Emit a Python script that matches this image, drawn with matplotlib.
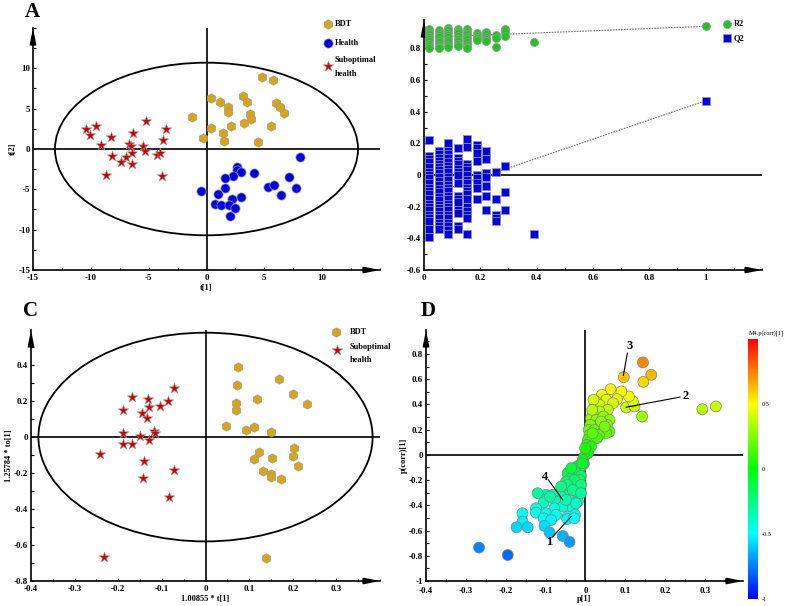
import numpy as np
import matplotlib
matplotlib.use("Agg")
import matplotlib.pyplot as plt
from matplotlib.patches import Ellipse
from matplotlib.ticker import AutoMinorLocator, FuncFormatter
from matplotlib.colors import LinearSegmentedColormap, Normalize
from matplotlib.cm import ScalarMappable

plt.rcParams["font.family"] = ["Liberation Serif", "DejaVu Serif"]
plt.rcParams["font.weight"] = "bold"

# ---- panel A: PCA-like scores ----
a_bdt_x = [4.83, 5.78, 0.37, 1.18, 3.16, 3.53, 1.90, 1.84, 3.74, 3.85, 3.28,
           6.03, 6.32, 6.72, -1.26, 0.40, 2.16, 1.44, 5.55, -0.29, 1.52, 4.45]
a_bdt_y = [8.98, 8.57, 6.31, 5.78, 6.52, 5.78, 5.16, 4.55, 4.34, 3.73, 3.20,
           5.66, 5.25, 4.43, 3.98, 2.58, 2.91, 2.01, 2.79, 1.39, 0.94, 0.90]
a_health_x = [8.05, 2.61, 2.67, 3.02, 2.33, 4.11, 1.58, 7.13, -0.49, 1.61, 1.01,
              5.34, 5.83, 6.41, 7.70, 3.02, 2.24, 0.72, 1.29, 1.95, 2.44, 2.04]
a_health_y = [-0.98, -2.21, -2.62, -2.87, -3.36, -2.99, -3.57, -3.44, -5.16, -4.80, -5.61,
              -4.71, -4.47, -5.66, -4.80, -5.90, -6.15, -6.84, -6.93, -6.89, -7.30, -8.32]
a_sub_x = [-10.43, -9.57, -10.09, -9.08, -8.22, -5.26, -3.48, -6.38, -3.79, -6.72, -6.52,
           -5.52, -5.32, -6.44, -8.19, -6.95, -4.31, -4.02, -7.39, -6.44, -8.68, -3.82]
a_sub_y = [2.54, 2.83, 1.72, 0.49, 1.43, 3.52, 2.54, 1.97, 1.11, 0.66, 0.37,
           0.37, -0.20, -0.49, -0.86, -0.98, -0.78, -0.53, -1.56, -1.84, -3.20, -3.36]

# ---- panel B: permutation test ----
b_perm_x = [0.0165, 0.053, 0.085, 0.121, 0.151, 0.188, 0.219, 0.257, 0.286, 0.392, 1.0]
b_r2 = [
    [0.92, 0.905, 0.89, 0.875, 0.86, 0.845, 0.83, 0.815, 0.805],
    [0.915, 0.90, 0.885, 0.87, 0.855, 0.84, 0.825, 0.81, 0.80],
    [0.93, 0.915, 0.90, 0.885, 0.87, 0.855, 0.84, 0.825, 0.812],
    [0.925, 0.91, 0.895, 0.88, 0.86, 0.845, 0.83, 0.815],
    [0.92, 0.905, 0.89, 0.875, 0.86, 0.84, 0.825, 0.81, 0.80],
    [0.895, 0.88, 0.865, 0.855],
    [0.905, 0.89, 0.875, 0.86, 0.85],
    [0.886, 0.865, 0.812],
    [0.922, 0.903, 0.88],
    [0.84],
    [0.941],
]
b_q2 = [
    [0.22, 0.12, 0.10, 0.08, 0.05, 0.02, 0.0, -0.02, -0.05, -0.08, -0.10, -0.12, -0.15,
     -0.18, -0.20, -0.22, -0.25, -0.27, -0.29, -0.34, -0.39],
    [0.15, 0.13, 0.11, 0.09, 0.07, 0.05, 0.03, 0.01, -0.01, -0.04, -0.06, -0.09, -0.11,
     -0.14, -0.16, -0.19, -0.21, -0.23, -0.25, -0.27, -0.30, -0.32, -0.34],
    [0.205, 0.15, 0.13, 0.11, 0.08, 0.06, 0.04, 0.02, -0.01, -0.03, -0.06, -0.08, -0.10,
     -0.13, -0.15, -0.18, -0.20, -0.22, -0.25, -0.27, -0.30, -0.32, -0.35, -0.37],
    [0.17, 0.11, 0.09, 0.07, 0.04, 0.02, 0.0, -0.05, -0.13, -0.15, -0.17, -0.22, -0.24,
     -0.32, -0.34],
    [0.225, 0.18, 0.07, 0.05, 0.03, 0.0, -0.03, -0.05, -0.08, -0.10, -0.12, -0.15, -0.20,
     -0.23, -0.25, -0.27, -0.37],
    [0.19, 0.17, 0.14, 0.09, 0.0, -0.02, -0.05, -0.08, -0.15],
    [0.15, 0.10, 0.01, -0.01, -0.07, -0.13, -0.22],
    [0.02, -0.15, -0.25, -0.27, -0.29],
    [0.055, -0.11, -0.22],
    [-0.37],
    [0.47],
]
b_r2_line = [0.87, 0.94]
b_q2_line = [-0.137, 0.47]

# ---- panel C: OPLS-DA scores ----
c_bdt_x = [0.074, 0.072, 0.071, 0.069, 0.169, 0.200, 0.232, 0.119, 0.047, 0.092, 0.111,
           0.150, 0.204, 0.201, 0.212, 0.123, 0.111, 0.153, 0.131, 0.149, 0.150, 0.172, 0.138]
c_bdt_y = [0.389, 0.289, 0.187, 0.148, 0.322, 0.241, 0.181, 0.209, 0.061, 0.041, 0.057,
           0.028, -0.063, -0.107, -0.163, -0.085, -0.124, -0.119, -0.191, -0.206, -0.220,
           -0.233, -0.674]
c_sub_x = [-0.073, -0.168, -0.132, -0.188, -0.085, -0.105, -0.129, -0.145, -0.135, -0.119,
           -0.116, -0.188, -0.149, -0.130, -0.188, -0.168, -0.241, -0.140, -0.073, -0.144,
           -0.084, -0.232]
c_sub_y = [0.274, 0.220, 0.209, 0.150, 0.202, 0.172, 0.165, 0.131, 0.104, 0.035,
           0.020, 0.020, 0.006, -0.019, -0.037, -0.037, -0.093, -0.131, -0.185, -0.230,
           -0.331, -0.667]

# ---- panel D: S-plot ----
d_p = [0.144, 0.096, 0.165, 0.145, 0.293, 0.327, 0.142, 0.102, 0.123, 0.119, 0.109,
       0.090, 0.063, 0.041, 0.079, 0.052, 0.027, 0.023, 0.035, 0.069, 0.056, 0.035,
       0.018, 0.014, 0.027, 0.045, 0.060, 0.054, 0.031, 0.012, 0.008, 0.023, 0.044,
       0.060, 0.052, 0.034, 0.010, 0.006, 0.018, 0.029, 0.003, 0.014, 0.002, 0.006,
       -0.003, -0.007, -0.004, -0.011, -0.019, -0.028, -0.015, -0.024, -0.045, -0.011,
       -0.034, -0.049, -0.015, -0.032, -0.019, -0.053, -0.040, -0.024, -0.061, -0.082,
       -0.099, -0.120, -0.040, -0.019, -0.074, -0.105, -0.057, -0.032, -0.024, -0.078,
       -0.124, -0.124, -0.099, -0.074, -0.045, -0.026, -0.105, -0.086, -0.158, -0.158,
       -0.173, -0.145, -0.103, -0.046, -0.090, -0.057, -0.040, -0.267, -0.195,
       0.020, 0.017, 0.039, 0.048, 0.018, -0.001, -0.008, -0.036, -0.028, -0.011,
       -0.045, -0.061, -0.032, -0.011, -0.049, -0.089, -0.028]
d_pcorr = [0.733, 0.616, 0.635, 0.579, 0.362, 0.384, 0.304, 0.376, 0.384, 0.423, 0.463,
           0.503, 0.521, 0.476, 0.442, 0.437, 0.423, 0.384, 0.397, 0.410, 0.357, 0.344,
           0.331, 0.291, 0.278, 0.304, 0.278, 0.238, 0.238, 0.238, 0.198, 0.198, 0.185,
           0.185, 0.172, 0.159, 0.159, 0.119, 0.119, 0.132, 0.079, 0.066, 0.040, 0.013,
           -0.013, -0.040, -0.071, -0.093, -0.087, -0.106, -0.124, -0.146, -0.146, -0.167,
           -0.185, -0.212, -0.198, -0.238, -0.265, -0.278, -0.304, -0.317, -0.331, -0.317,
           -0.317, -0.304, -0.357, -0.370, -0.370, -0.378, -0.410, -0.423, -0.384, -0.423,
           -0.423, -0.458, -0.463, -0.476, -0.489, -0.476, -0.503, -0.516, -0.463, -0.529,
           -0.574, -0.574, -0.563, -0.508, -0.616, -0.643, -0.690, -0.735, -0.794,
           0.437, 0.357, 0.265, 0.225, 0.172, 0.053, -0.066, -0.106, -0.198, -0.238,
           -0.238, -0.251, -0.278, -0.304, -0.357, -0.331, -0.503]
d_labels = ["1", "2", "3", "4"]
d_label_xy = [(-0.092, -0.693), (0.252, 0.463), (0.111, 0.860), (-0.102, -0.172)]
d_label_from = [(-0.082, -0.648), (0.237, 0.458), (0.105, 0.807), (-0.093, -0.198)]
d_label_to = [(-0.036, -0.489), (0.102, 0.378), (0.095, 0.630), (-0.057, -0.357)]

GOLD = "#D9A514"
BLUE = "#0000DD"
RED = "#CC0000"
GREEN = "#22C322"
EDGE = "#9a9a9a"
TICK_FS = 6.5

fig = plt.figure(figsize=(7.87, 6.06), dpi=100)
W, H = 787.0, 606.0


def px_axes(x0, y0, x1, y1):
    return fig.add_axes([x0 / W, 1 - y1 / H, (x1 - x0) / W, (y1 - y0) / H])


def fmt(v, p):
    return f"{round(v, 6):g}"


def style(ax, xticks, yticks):
    for s in ["top", "right"]:
        ax.spines[s].set_visible(False)
    for s in ["left", "bottom"]:
        ax.spines[s].set_linewidth(1.2)
    ax.set_xticks(xticks)
    ax.set_yticks(yticks)
    ax.xaxis.set_minor_locator(AutoMinorLocator(2))
    ax.yaxis.set_minor_locator(AutoMinorLocator(2))
    ax.xaxis.set_major_formatter(FuncFormatter(fmt))
    ax.yaxis.set_major_formatter(FuncFormatter(fmt))
    ax.tick_params(which="both", direction="in", width=0.8, labelsize=TICK_FS, pad=2)
    ax.tick_params(axis="x", pad=3)
    ax.tick_params(which="major", length=2.5)
    ax.tick_params(which="minor", length=1.8)
    for lab in ax.get_xticklabels() + ax.get_yticklabels():
        lab.set_fontweight("bold")
    arr = dict(arrowstyle="-|>,head_length=0.9,head_width=0.18", color="k", lw=1.2,
               shrinkA=0, shrinkB=0)
    ax.annotate("", xy=(1.0, 0), xytext=(0.96, 0), xycoords="axes fraction", arrowprops=arr)
    ax.annotate("", xy=(0, 1.0), xytext=(0, 0.96), xycoords="axes fraction", arrowprops=arr)


def cross(ax, vertical=True):
    ax.axhline(0, color="k", lw=1.2, zorder=1)
    if vertical:
        ax.axvline(0, color="k", lw=1.2, zorder=1)


# ---- A ----
axA = px_axes(33, 28, 380, 270)
axA.set_xlim(-15, 15)
axA.set_ylim(-15, 15)
style(axA, [-15, -10, -5, 0, 5, 10], [-15, -10, -5, 0, 5, 10])
cross(axA)
axA.add_patch(Ellipse((0, 0), 26.2, 21.4, fill=False, lw=1.3, color="k"))
axA.scatter(a_bdt_x, a_bdt_y, s=46, marker="h", c=GOLD, edgecolors=EDGE, linewidths=0.5, zorder=3)
axA.scatter(a_health_x, a_health_y, s=44, marker="o", c=BLUE, edgecolors=EDGE, linewidths=0.5, zorder=3)
axA.scatter(a_sub_x, a_sub_y, s=62, marker="*", c=RED, edgecolors=EDGE, linewidths=0.4, zorder=3)
axA.set_xlabel("t[1]", fontsize=6, fontweight="bold", labelpad=1)
axA.set_ylabel("t[2]", fontsize=6, fontweight="bold", labelpad=1)

# ---- B ----
axB = px_axes(424, 20, 762, 270)
axB.set_xlim(0, 1.2)
axB.set_ylim(-0.6, 0.98)
style(axB, [0, 0.2, 0.4, 0.6, 0.8, 1.0], [-0.6, -0.4, -0.2, 0, 0.2, 0.4, 0.6, 0.8])
cross(axB, vertical=False)
axB.plot([0, 1], b_r2_line, ls=(0, (1.5, 1)), color="#707070", lw=0.8, zorder=2)
axB.plot([0, 1], b_q2_line, ls=(0, (1.5, 1)), color="#707070", lw=0.8, zorder=2)
for xv, r2s, q2s in zip(b_perm_x, b_r2, b_q2):
    axB.scatter([xv] * len(r2s), r2s, s=34, marker="o", c=GREEN, edgecolors=EDGE, linewidths=0.5, zorder=3)
    axB.scatter([xv] * len(q2s), q2s, s=26, marker="s", c=BLUE, edgecolors=EDGE, linewidths=0.5, zorder=3)

# ---- C ----
axC = px_axes(31, 330, 380, 581)
axC.set_xlim(-0.4, 0.4)
axC.set_ylim(-0.8, 0.595)
style(axC, [-0.4, -0.3, -0.2, -0.1, 0, 0.1, 0.2, 0.3], [-0.8, -0.6, -0.4, -0.2, 0, 0.2, 0.4])
cross(axC)
axC.add_patch(Ellipse((0, 0), 0.766, 1.16, fill=False, lw=1.3, color="k"))
axC.scatter(c_bdt_x, c_bdt_y, s=46, marker="h", c=GOLD, edgecolors=EDGE, linewidths=0.5, zorder=3)
axC.scatter(c_sub_x, c_sub_y, s=62, marker="*", c=RED, edgecolors=EDGE, linewidths=0.4, zorder=3)
axC.set_xlabel("1.00855 * t[1]", fontsize=6, fontweight="bold", labelpad=1)
axC.set_ylabel("1.25784 * to[1]", fontsize=6, fontweight="bold", labelpad=1)

# ---- D ----
cmap = LinearSegmentedColormap.from_list(
    "pc", ["#0000FF", "#00FFFF", "#00FF00", "#FFFF00", "#FF0000"])
norm = Normalize(-1, 1)
axD = px_axes(426, 330, 743, 581)
axD.set_xlim(-0.4, 0.395)
axD.set_ylim(-1, 0.99)
style(axD, [-0.4, -0.3, -0.2, -0.1, 0, 0.1, 0.2, 0.3],
      [-1, -0.8, -0.6, -0.4, -0.2, 0, 0.2, 0.4, 0.6, 0.8])
axD.tick_params(axis="x", pad=4)
cross(axD)
axD.scatter(d_p, d_pcorr, s=62, c=d_pcorr, cmap=cmap, norm=norm, edgecolors="#808080",
            linewidths=0.5, zorder=3)
for lab, xy, p0, p1 in zip(d_labels, d_label_xy, d_label_from, d_label_to):
    axD.plot([p0[0], p1[0]], [p0[1], p1[1]], color="k", lw=0.8, zorder=4)
    axD.text(xy[0], xy[1], lab, fontsize=9, fontweight="bold", ha="center", va="center", zorder=5)
axD.set_xlabel("p[1]", fontsize=6, fontweight="bold", labelpad=0)
axD.set_ylabel("p(corr)[1]", fontsize=6, fontweight="bold", labelpad=1)

cax = px_axes(748, 339, 758, 599)
cb = fig.colorbar(ScalarMappable(norm=norm, cmap=cmap), cax=cax)
cb.outline.set_visible(False)
cb.set_ticks([-1, -0.5, 0, 0.5])
cb.ax.yaxis.set_major_formatter(FuncFormatter(fmt))
cb.ax.tick_params(length=0, labelsize=4.5, pad=3)
for lab in cb.ax.get_yticklabels():
    lab.set_fontweight("normal")

# ---- overlay: panel letters and legends ----
ov = fig.add_axes([0, 0, 1, 1])
ov.set_xlim(0, W)
ov.set_ylim(H, 0)
ov.axis("off")
ov.patch.set_alpha(0)
for lab, x, y in [("A", 32, 12), ("C", 31, 311), ("D", 428, 311)]:
    ov.text(x, y, lab, fontsize=15, fontweight="bold", ha="center", va="center")

leg_fs = 6
ov.scatter([328], [24], s=46, marker="h", c=GOLD, edgecolors=EDGE, linewidths=0.5)
ov.scatter([328], [43], s=44, marker="o", c=BLUE, edgecolors=EDGE, linewidths=0.5)
ov.scatter([328], [66], s=62, marker="*", c=RED, edgecolors=EDGE, linewidths=0.4)
ov.text(335, 24, "BDT", fontsize=leg_fs, va="center")
ov.text(335, 43, "Health", fontsize=leg_fs, va="center")
ov.text(335, 60, "Suboptimal", fontsize=leg_fs, va="center")
ov.text(335, 74, "health", fontsize=leg_fs, va="center")

ov.scatter([727], [24], s=34, marker="o", c=GREEN, edgecolors=EDGE, linewidths=0.5)
ov.scatter([727], [38], s=26, marker="s", c=BLUE, edgecolors=EDGE, linewidths=0.5)
ov.text(734, 24, "R2", fontsize=leg_fs, va="center")
ov.text(734, 38, "Q2", fontsize=leg_fs, va="center")

ov.scatter([336], [332], s=46, marker="h", c=GOLD, edgecolors=EDGE, linewidths=0.5)
ov.scatter([337], [350], s=62, marker="*", c=RED, edgecolors=EDGE, linewidths=0.4)
ov.text(350, 332, "BDT", fontsize=leg_fs, va="center")
ov.text(350, 347, "Suboptimal", fontsize=leg_fs, va="center")
ov.text(350, 360, "health", fontsize=leg_fs, va="center")

ov.text(766, 333, "M4.p(corr)[1]", fontsize=4.5, fontweight="normal", ha="center", va="center")

fig.savefig("out.png", dpi=100)
